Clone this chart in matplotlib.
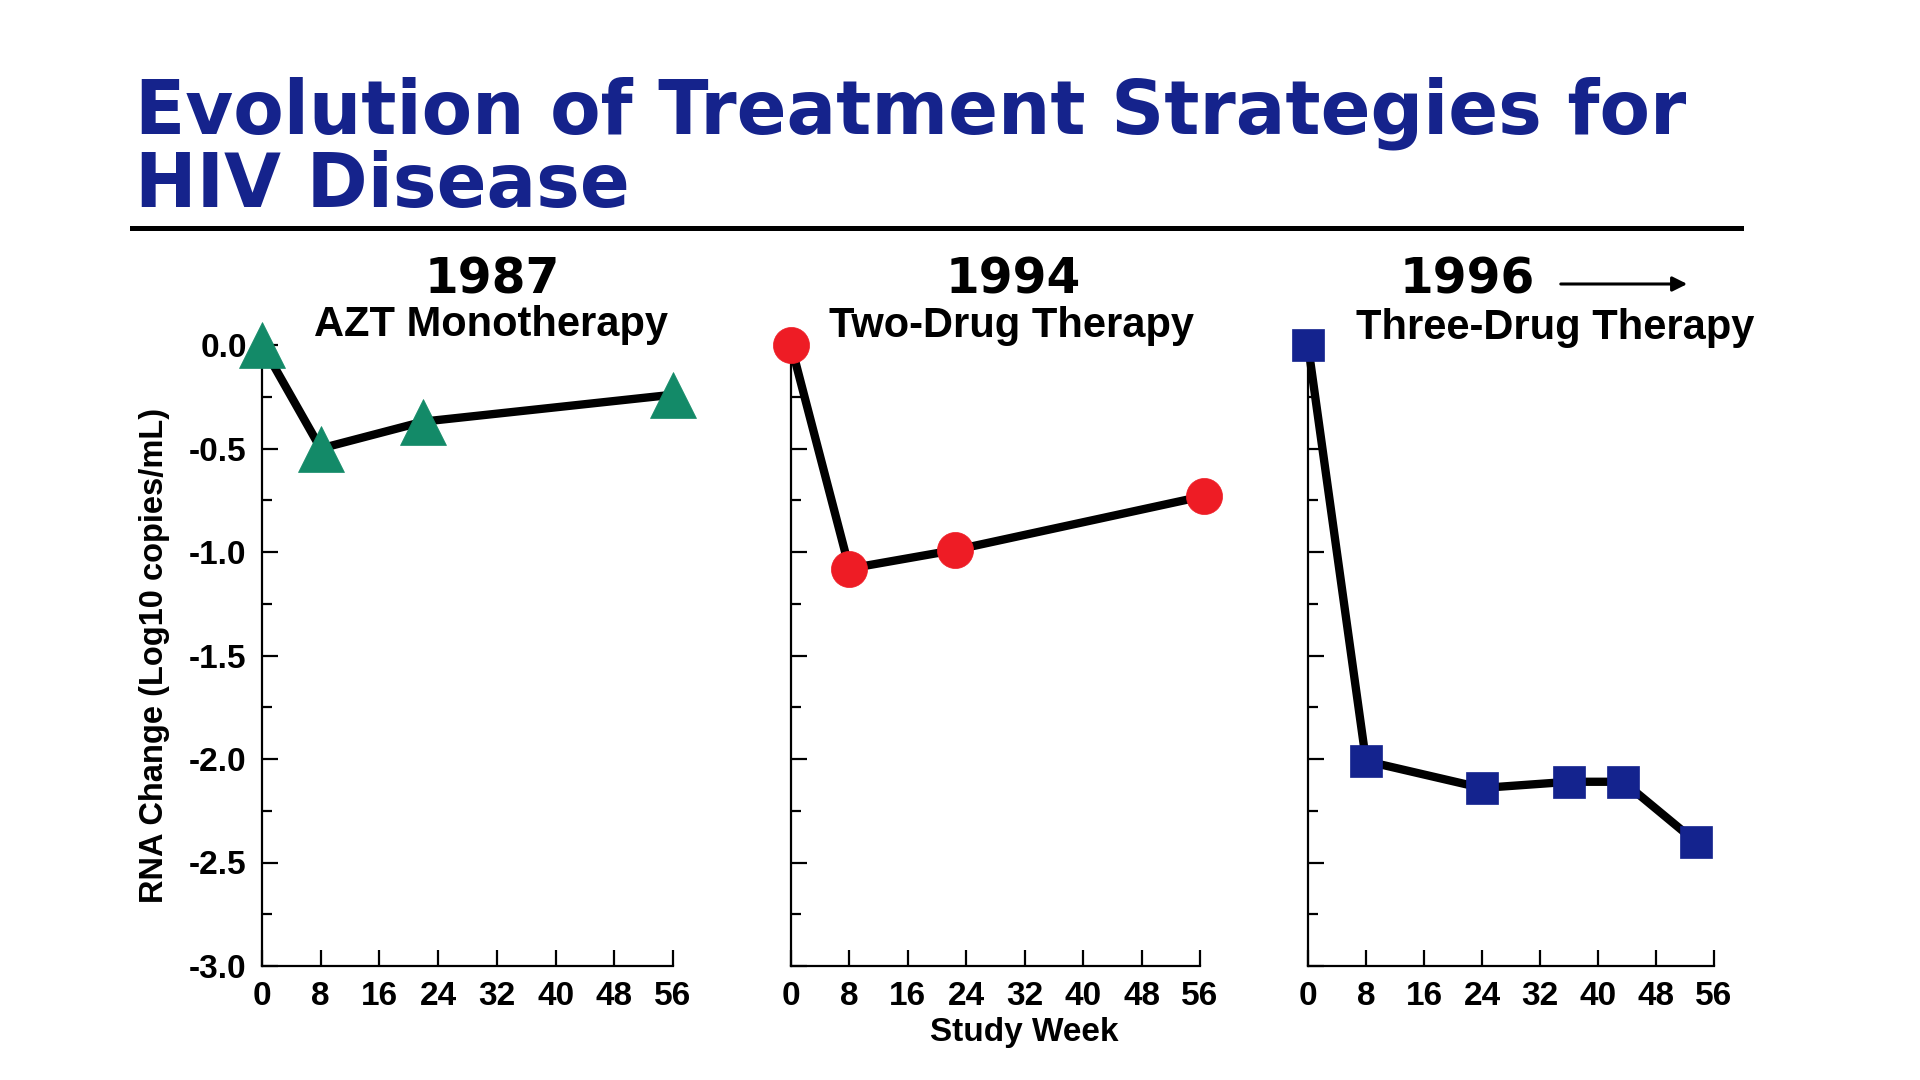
import matplotlib
matplotlib.use("Agg")
import matplotlib.pyplot as plt
from matplotlib.ticker import MultipleLocator
from matplotlib.lines import Line2D
from matplotlib.patches import FancyArrowPatch

# ---- data ----
weeks_azt = [0, 8, 22, 56]
rna_azt = [0.0, -0.5, -0.37, -0.24]
weeks_two = [0, 8, 22.5, 56.5]
rna_two = [0.0, -1.08, -0.99, -0.73]
weeks_three = [0, 8, 24, 36, 43.5, 53.5]
rna_three = [0.0, -2.01, -2.14, -2.11, -2.11, -2.40]

years = ["1987", "1994", "1996"]
therapies = ["AZT Monotherapy", "Two-Drug Therapy", "Three-Drug Therapy"]
x_ticks = [0, 8, 16, 24, 32, 40, 48, 56]
y_ticks = [0.0, -0.5, -1.0, -1.5, -2.0, -2.5, -3.0]
y_tick_labels = ["0.0", "-0.5", "-1.0", "-1.5", "-2.0", "-2.5", "-3.0"]

title = "Evolution of Treatment Strategies for\nHIV Disease"
ylabel = "RNA Change (Log10 copies/mL)"
xlabel = "Study Week"

# ---- style ----
NAVY = "#15238c"
GREEN = "#138a68"
RED = "#ee1c25"
BLUE = "#14238e"
FONT = "Liberation Sans"

W, H = 1920, 1080
fig = plt.figure(figsize=(W / 100, H / 100), dpi=100)
fig.patch.set_facecolor("white")

def fx(px):
    return px / W

def fy(py):
    return 1 - py / H

bottom_px, top_px = 966, 345
panels = [(262, 673), (791, 1200), (1308, 1714)]
series = [
    (weeks_azt, rna_azt, "^", GREEN, 33),
    (weeks_two, rna_two, "o", RED, 26),
    (weeks_three, rna_three, "s", BLUE, 23),
]

axes = []
for i, ((l, r), (xs, ys, mk, col, ms)) in enumerate(zip(panels, series)):
    ax = fig.add_axes([fx(l), fy(bottom_px), (r - l) / W, (bottom_px - top_px) / H])
    axes.append(ax)
    ax.plot(xs, ys, color="black", lw=6.0, zorder=3, clip_on=False,
            solid_joinstyle="miter")
    ax.plot(xs, ys, linestyle="none", marker=mk, markersize=ms,
            markerfacecolor=col, markeredgecolor=col, markeredgewidth=0.5,
            zorder=4, clip_on=False)
    ax.set_xlim(0, 56)
    ax.set_ylim(-3.0, 0.0)
    for s in ["top", "right"]:
        ax.spines[s].set_visible(False)
    for s in ["left", "bottom"]:
        ax.spines[s].set_linewidth(1.6)
        ax.spines[s].set_color("black")
    ax.set_xticks(x_ticks)
    ax.set_xticklabels([str(t) for t in x_ticks], fontfamily=FONT,
                       fontweight="bold", fontsize=24)
    ax.set_yticks(y_ticks)
    ax.yaxis.set_minor_locator(MultipleLocator(0.25))
    if i == 0:
        ax.set_yticklabels(y_tick_labels, fontfamily=FONT, fontweight="bold",
                           fontsize=24)
    else:
        ax.set_yticklabels([])
    ax.tick_params(axis="both", which="major", direction="in", length=11.5,
                   width=1.6, color="black", pad=11)
    ax.tick_params(axis="y", which="minor", direction="in", length=7.5,
                   width=1.6, color="black")
    ax.tick_params(axis="x", which="minor", length=0)
    ax.patch.set_alpha(0)

axes[0].set_ylabel(ylabel, fontfamily=FONT, fontweight="bold", fontsize=23.5,
                   labelpad=14)
fig.text(fx(1024), fy(1032), xlabel, ha="center", va="center",
         fontfamily=FONT, fontweight="bold", fontsize=24)

# panel headings
year_pos = [(492, 279), (1013, 279), (1467, 280)]
ther_pos = [(491, 325), (1011, 326), (1555, 328)]
for yr, th, (yx, yy), (tx, ty) in zip(years, therapies, year_pos, ther_pos):
    fig.text(fx(yx), fy(yy), yr, ha="center", va="center",
             fontfamily="DejaVu Sans", fontweight="bold", fontsize=35)
    fig.text(fx(tx), fy(ty), th, ha="center", va="center", fontfamily=FONT,
             fontweight="bold", fontsize=30)

arrow = FancyArrowPatch((fx(1558), fy(284)), (fx(1690), fy(284)),
                        transform=fig.transFigure, arrowstyle="-|>",
                        mutation_scale=22, lw=2.2, color="black")
fig.add_artist(arrow)

# main title, fitted to reference width
t = fig.text(fx(135), fy(76), title, ha="left", va="top",
             fontfamily="DejaVu Sans", fontweight="bold", fontsize=52,
             color=NAVY, linespacing=1.0)
fig.canvas.draw()
r = fig.canvas.get_renderer()
line1 = fig.text(0, 0, title.split("\n")[0], fontfamily="DejaVu Sans",
                 fontweight="bold", fontsize=52)
wpx = line1.get_window_extent(r).width
line1.remove()
t.set_fontsize(52 * 1553 / wpx)

fig.add_artist(Line2D([fx(132), fx(1741)], [fy(228), fy(228)], lw=3.6,
                      color="black"))

fig.savefig("out.png", dpi=100, facecolor="white")
